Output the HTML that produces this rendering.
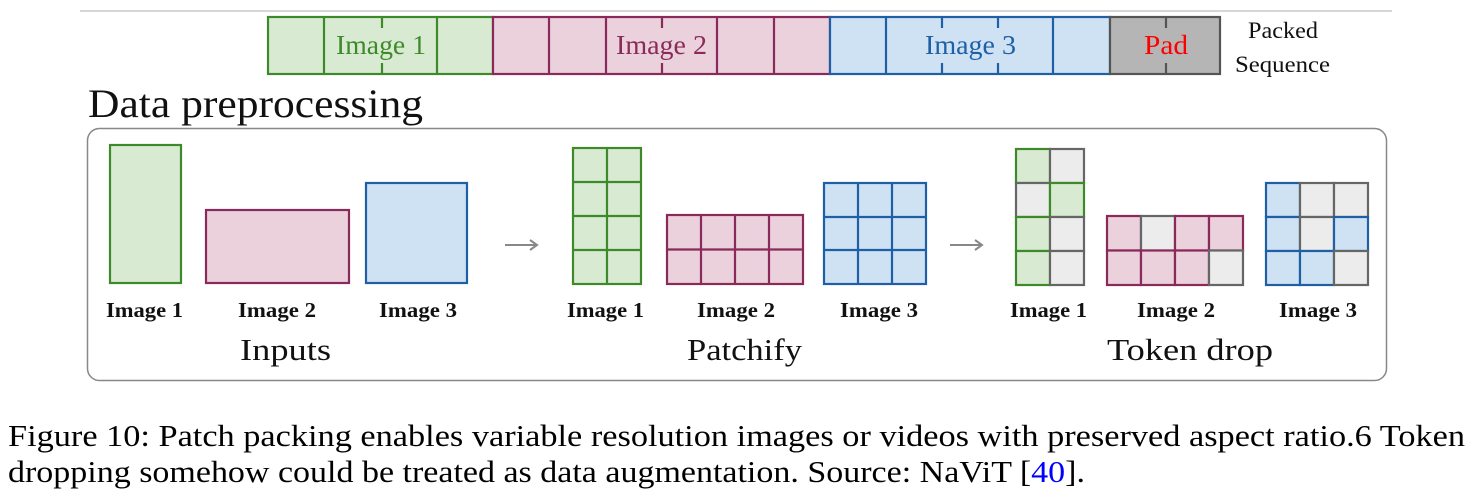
<!DOCTYPE html>
<html><head><meta charset="utf-8"><style>
html,body{margin:0;padding:0;background:#fff;}
body{width:1475px;height:499px;overflow:hidden;position:relative;}
</style></head><body>
<svg width="1475" height="499" style="position:absolute;left:0;top:0" font-family="Liberation Serif, serif">
<line x1="80" y1="11" x2="1392" y2="11" stroke="#c8c8c8" stroke-width="1.5"/>
<g stroke-width="2.2">
<rect x="268" y="17" width="225" height="57" fill="#d9ead3" stroke="#3d8a2a"/>
<g stroke="#3d8a2a"><line x1="324" y1="17" x2="324" y2="74"/><line x1="437" y1="17" x2="437" y2="74"/><line x1="382" y1="17" x2="382" y2="28"/><line x1="382" y1="63" x2="382" y2="74"/></g>
<rect x="493" y="17" width="337" height="57" fill="#ead1dc" stroke="#8a2a5a"/>
<g stroke="#8a2a5a"><line x1="549" y1="17" x2="549" y2="74"/><line x1="606" y1="17" x2="606" y2="74"/><line x1="717" y1="17" x2="717" y2="74"/><line x1="774" y1="17" x2="774" y2="74"/><line x1="662" y1="17" x2="662" y2="28"/><line x1="662" y1="63" x2="662" y2="74"/></g>
<rect x="830" y="17" width="280" height="57" fill="#cfe2f3" stroke="#1f5fa5"/>
<g stroke="#1f5fa5"><line x1="886" y1="17" x2="886" y2="74"/><line x1="1053" y1="17" x2="1053" y2="74"/><line x1="942" y1="17" x2="942" y2="28"/><line x1="942" y1="63" x2="942" y2="74"/><line x1="998" y1="17" x2="998" y2="28"/><line x1="998" y1="63" x2="998" y2="74"/></g>
<rect x="1110" y="17" width="110" height="57" fill="#b5b5b5" stroke="#555"/>
<g stroke="#555"><line x1="1166" y1="17" x2="1166" y2="28"/><line x1="1166" y1="63" x2="1166" y2="74"/></g>
</g>
<g font-size="27">
<text x="336" y="54" fill="#3d8a2a" textLength="90" lengthAdjust="spacingAndGlyphs">Image 1</text>
<text x="616" y="54" fill="#8a2a5a" textLength="91" lengthAdjust="spacingAndGlyphs">Image 2</text>
<text x="925" y="54" fill="#1f5fa5" textLength="91" lengthAdjust="spacingAndGlyphs">Image 3</text>
<text x="1144" y="54" fill="#f00" textLength="44" lengthAdjust="spacingAndGlyphs">Pad</text>
<text x="1248" y="38" font-size="23" fill="#111" textLength="70" lengthAdjust="spacingAndGlyphs">Packed</text>
<text x="1235" y="72" font-size="23" fill="#111" textLength="95" lengthAdjust="spacingAndGlyphs">Sequence</text>
</g>
<text x="88" y="117" font-size="40" fill="#111" textLength="335" lengthAdjust="spacingAndGlyphs">Data preprocessing</text>
<rect x="87.5" y="128.5" width="1299" height="252" rx="12" fill="none" stroke="#888" stroke-width="1.5"/>
<g stroke-width="2.2">
<rect x="110" y="145" width="71" height="138" fill="#d9ead3" stroke="#3d8a2a"/>
<rect x="206" y="210" width="143" height="73" fill="#ead1dc" stroke="#8a2a5a"/>
<rect x="366" y="183" width="101" height="100" fill="#cfe2f3" stroke="#1f5fa5"/>
</g>
<g stroke="#888" stroke-width="2" fill="none"><line x1="505" y1="245" x2="536" y2="245"/><polyline points="530,240 537,245 530,250"/>
<line x1="950" y1="245" x2="981" y2="245"/><polyline points="975,240 982,245 975,250"/></g>
<g stroke-width="2.2">
<rect x="573" y="148" width="68" height="136" fill="#d9ead3" stroke="#3d8a2a"/>
<g stroke="#3d8a2a"><line x1="607" y1="148" x2="607" y2="284"/><line x1="573" y1="182" x2="641" y2="182"/><line x1="573" y1="216" x2="641" y2="216"/><line x1="573" y1="250" x2="641" y2="250"/></g>
<rect x="667" y="215" width="136" height="69" fill="#ead1dc" stroke="#8a2a5a"/>
<g stroke="#8a2a5a"><line x1="701" y1="215" x2="701" y2="284"/><line x1="735" y1="215" x2="735" y2="284"/><line x1="769" y1="215" x2="769" y2="284"/><line x1="667" y1="249.5" x2="803" y2="249.5"/></g>
<rect x="824" y="183" width="102" height="101" fill="#cfe2f3" stroke="#1f5fa5"/>
<g stroke="#1f5fa5"><line x1="858" y1="183" x2="858" y2="284"/><line x1="892" y1="183" x2="892" y2="284"/><line x1="824" y1="217" x2="926" y2="217"/><line x1="824" y1="250" x2="926" y2="250"/></g>
</g>
<g stroke-width="2.2">
<rect x="1016" y="149" width="34" height="34" fill="#d9ead3" stroke="#3d8a2a"/>
<rect x="1050" y="149" width="34" height="34" fill="#ececec" stroke="#666"/>
<rect x="1016" y="183" width="34" height="34" fill="#ececec" stroke="#666"/>
<rect x="1050" y="183" width="34" height="34" fill="#d9ead3" stroke="#3d8a2a"/>
<rect x="1016" y="217" width="34" height="34" fill="#d9ead3" stroke="#3d8a2a"/>
<rect x="1050" y="217" width="34" height="34" fill="#ececec" stroke="#666"/>
<rect x="1016" y="251" width="34" height="34" fill="#d9ead3" stroke="#3d8a2a"/>
<rect x="1050" y="251" width="34" height="34" fill="#ececec" stroke="#666"/>
<rect x="1107" y="216" width="34" height="34.5" fill="#ead1dc" stroke="#8a2a5a"/>
<rect x="1141" y="216" width="34" height="34.5" fill="#ececec" stroke="#666"/>
<rect x="1175" y="216" width="34" height="34.5" fill="#ead1dc" stroke="#8a2a5a"/>
<rect x="1209" y="216" width="34" height="34.5" fill="#ead1dc" stroke="#8a2a5a"/>
<rect x="1107" y="250.5" width="34" height="34.5" fill="#ead1dc" stroke="#8a2a5a"/>
<rect x="1141" y="250.5" width="34" height="34.5" fill="#ead1dc" stroke="#8a2a5a"/>
<rect x="1175" y="250.5" width="34" height="34.5" fill="#ead1dc" stroke="#8a2a5a"/>
<rect x="1209" y="250.5" width="34" height="34.5" fill="#ececec" stroke="#666"/>
<rect x="1266" y="183" width="34" height="34" fill="#cfe2f3" stroke="#1f5fa5"/>
<rect x="1300" y="183" width="34" height="34" fill="#ececec" stroke="#666"/>
<rect x="1334" y="183" width="34" height="34" fill="#ececec" stroke="#666"/>
<rect x="1266" y="217" width="34" height="34" fill="#cfe2f3" stroke="#1f5fa5"/>
<rect x="1300" y="217" width="34" height="34" fill="#ececec" stroke="#666"/>
<rect x="1334" y="217" width="34" height="34" fill="#cfe2f3" stroke="#1f5fa5"/>
<rect x="1266" y="251" width="34" height="34" fill="#cfe2f3" stroke="#1f5fa5"/>
<rect x="1300" y="251" width="34" height="34" fill="#cfe2f3" stroke="#1f5fa5"/>
<rect x="1334" y="251" width="34" height="34" fill="#ececec" stroke="#666"/>
</g>
<g font-size="21" font-weight="bold" fill="#111">
<text x="106" y="317" textLength="77" lengthAdjust="spacingAndGlyphs">Image 1</text>
<text x="238" y="317" textLength="78" lengthAdjust="spacingAndGlyphs">Image 2</text>
<text x="379" y="317" textLength="78" lengthAdjust="spacingAndGlyphs">Image 3</text>
<text x="567" y="317" textLength="77" lengthAdjust="spacingAndGlyphs">Image 1</text>
<text x="697" y="317" textLength="78" lengthAdjust="spacingAndGlyphs">Image 2</text>
<text x="840" y="317" textLength="78" lengthAdjust="spacingAndGlyphs">Image 3</text>
<text x="1010" y="317" textLength="77" lengthAdjust="spacingAndGlyphs">Image 1</text>
<text x="1137" y="317" textLength="78" lengthAdjust="spacingAndGlyphs">Image 2</text>
<text x="1279" y="317" textLength="78" lengthAdjust="spacingAndGlyphs">Image 3</text>
</g>
<g font-size="31" fill="#111">
<text x="240" y="360" textLength="91" lengthAdjust="spacingAndGlyphs">Inputs</text>
<text x="687" y="360" textLength="115" lengthAdjust="spacingAndGlyphs">Patchify</text>
<text x="1107" y="360" textLength="166" lengthAdjust="spacingAndGlyphs">Token drop</text>
</g>
<g font-size="31" fill="#000">
<text x="8" y="446" textLength="1457" lengthAdjust="spacingAndGlyphs">Figure 10: Patch packing enables variable resolution images or videos with preserved aspect ratio.6 Token</text>
<text x="8" y="482" textLength="1077" lengthAdjust="spacingAndGlyphs">dropping somehow could be treated as data augmentation. Source: NaViT [<tspan fill="#00f">40</tspan>].</text>
</g>
</svg>
</body></html>
